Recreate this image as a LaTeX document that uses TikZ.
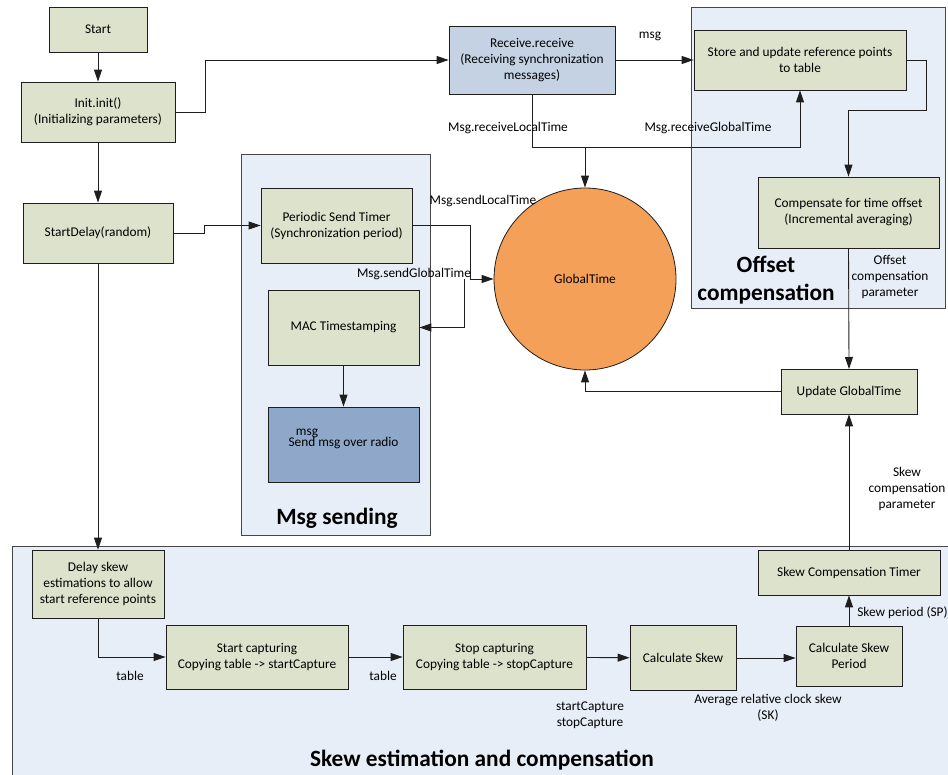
\documentclass[tikz,border=0pt]{standalone}
\usepackage{fontspec}
\setmainfont{Carlito}
\usetikzlibrary{arrows.meta}

\definecolor{linec}{RGB}{30,30,30}
\definecolor{boxfill}{RGB}{221,226,204}
\definecolor{groupfill}{RGB}{232,238,248}
\definecolor{groupline}{RGB}{70,70,70}
\definecolor{recvfill}{RGB}{197,210,228}
\definecolor{sendfill}{RGB}{143,168,202}
\definecolor{timefill}{RGB}{244,160,88}

\tikzset{
  sz/.style 2 args={minimum width=#1*0.75pt, minimum height=#2*0.75pt},
  procbox/.style={draw=linec, fill=boxfill, line width=0.6pt, align=center,
    inner sep=1pt, font=\fontsize{10}{12}\selectfont},
  grp/.style={draw=groupline, fill=groupfill, line width=0.6pt},
  lbl/.style={inner sep=0pt, align=center, font=\fontsize{10}{12}\selectfont},
  ttl/.style={inner sep=0pt, align=center, font=\fontsize{17.5}{21}\selectfont\bfseries},
  conn/.style={draw=linec, line width=0.65pt},
  arr/.style={conn, -{Triangle[length=9pt, width=6pt]}},
}

\begin{document}
\begin{tikzpicture}[x=0.75pt, y=-0.75pt]
\clip (0,0) rectangle (948,774);
\fill[white] (0,0) rectangle (948,774);

% group frames
\draw[grp] (691,7) rectangle (945,308);
\draw[grp] (241,154) rectangle (430,535);
\draw[grp] (12,546) rectangle (952,780);

% group titles
\node[ttl] (offtitle) at (766,280) {Offset\\compensation};
\node[ttl] (msgtitle) at (337,518) {Msg sending};
\node[ttl] (skewtitle) at (482,760) {Skew estimation and compensation};

% process boxes
\node[procbox, sz={98}{45}] (start) at (98,29.5) {Start};
\node[procbox, sz={154}{60}] (init) at (98,112) {Init.init()\\(Initializing parameters)};
\node[procbox, sz={150}{60}] (sdelay) at (98,233) {StartDelay(random)};
\node[procbox, sz={166}{68}, fill=recvfill] (recv) at (532,60) {Receive.receive\\(Receiving synchronization\\messages)};
\node[procbox, sz={212}{60}] (store) at (800,60) {Store and update reference points\\to table};
\node[procbox, sz={181}{71}] (comp) at (848.5,212.5) {Compensate for time offset\\(Incremental averaging)};
\node[procbox, sz={136}{45}] (update) at (849,391.5) {Update GlobalTime};
\node[procbox, sz={151}{75}] (periodic) at (336.5,225.5) {Periodic Send Timer\\(Synchronization period)};
\node[procbox, sz={151}{75}] (mac) at (343.5,327.5) {MAC Timestamping};
\node[procbox, sz={151}{75}, fill=sendfill] (send) at (343.5,444.5) {};
\node[lbl] (sendtxt) at (343.5,443) {Send msg over radio};
\node[lbl] (sendmsg) at (307,433) {msg};
\node[procbox, sz={132}{68}] (delayskew) at (98,584) {Delay skew\\estimations to allow\\start reference points};
\node[procbox, sz={182}{64}] (startcap) at (257,657) {Start capturing\\Copying table -> startCapture};
\node[procbox, sz={183}{64}] (stopcap) at (494.5,657) {Stop capturing\\Copying table -> stopCapture};
\node[procbox, sz={106}{65}] (calcskew) at (683,658) {Calculate Skew};
\node[procbox, sz={106}{60}] (calcper) at (849,656) {Calculate Skew\\Period};
\node[procbox, sz={182}{45}] (timer) at (849,572.5) {Skew Compensation Timer};
\node[circle, draw=linec, fill=timefill, line width=0.6pt, minimum size=182*0.75pt,
  font=\fontsize{10}{12}\selectfont] (gtime) at (585,279) {GlobalTime};

% junction points on the time lines
\coordinate (rjoin) at (585,147);
\coordinate (sjoin) at (464,279);

% connectors
\draw[arr] (start) -- (init);
\draw[arr] (init) -- (sdelay);
\draw[arr] (sdelay) -- (delayskew);
\draw[arr] (init.east) -- (205,112) -- (205,60) -- (recv.west);
\draw[arr] (sdelay.east) -- (204,233) -- (204,225.5) -- (periodic.west);
\draw[arr] (recv.east) -- (store.west);
\draw[arr] (recv.south) -- (532,147) -- (rjoin) -- (gtime.north);
\draw[arr] (rjoin) -- (800,147) -- (store.south);
\draw[arr] (store.east) -- (926,60) -- (926,110) -- (848.5,110) -- (comp.north);
\draw[arr] (comp.south) -- (849,369);
\draw[arr] (update.west) -- (585,391.5) -- (gtime.south);
\draw[arr] (periodic.east) -- (470,225.5) -- (470,279) -- (gtime.west);
\draw[arr] (sjoin) -- (464,327.5) -- (mac.east);
\draw[arr] (mac) -- (send);
\draw[arr] (delayskew.south) -- (98,657) -- (startcap.west);
\draw[arr] (startcap) -- (stopcap);
\draw[arr] (stopcap) -- (calcskew);
\draw[arr] (calcskew.east) -- (calcper.west |- calcskew.east);
\draw[arr] (calcper) -- (timer);
\draw[arr] (timer) -- (update);

% connector labels
\node[lbl] (lmsg) at (650,36) {msg};
\node[lbl] (lrlt) at (508,128) {Msg.receiveLocalTime};
\node[lbl] (lrgt) at (708,128) {Msg.receiveGlobalTime};
\node[lbl] (lslt) at (483,201) {Msg.sendLocalTime};
\node[lbl] (lsgt) at (414,274) {Msg.sendGlobalTime};
\node[lbl] (loff) at (890,277) {Offset\\compensation\\parameter};
\node[lbl] (lskp) at (907,489) {Skew\\compensation\\parameter};
\node[lbl] (ltab1) at (130,676) {table};
\node[lbl] (ltab2) at (383,676) {table};
\node[lbl] (lcap) at (590,715) {startCapture\\stopCapture};
\node[lbl] (lsk) at (768,708) {Average relative clock skew\\(SK)};
\node[lbl, anchor=west] (lsp) at (857,613) {Skew period (SP)};
\end{tikzpicture}
\end{document}
